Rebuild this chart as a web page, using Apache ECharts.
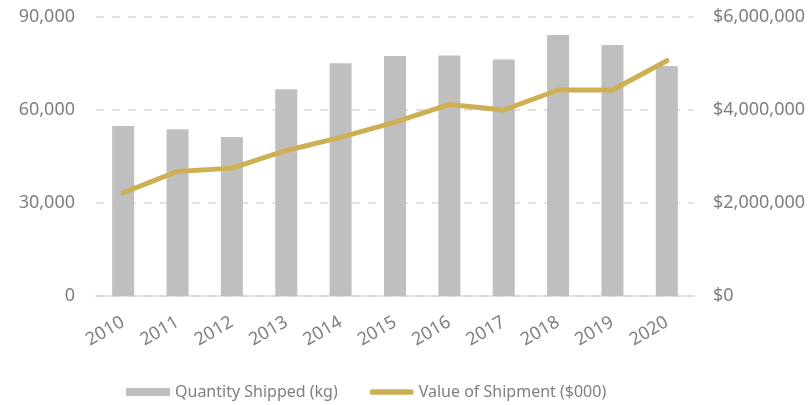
<!DOCTYPE html>
<html>
<head>
<meta charset="utf-8">
<script src="https://cdn.jsdelivr.net/npm/echarts@6/dist/echarts.min.js"></script>
<style>
  html, body { margin: 0; padding: 0; background: #fff; }
  #chart { width: 811px; height: 405px; }
</style>
</head>
<body>
<div id="chart"></div>
<script>
var years = ['2010', '2011', '2012', '2013', '2014', '2015', '2016', '2017', '2018', '2019', '2020'];
var quantityKg = [54800, 53800, 51300, 66700, 75100, 77400, 77600, 76300, 84200, 81000, 74200];
var valueDollars = [2220000, 2680000, 2750000, 3130000, 3410000, 3740000, 4120000, 4000000, 4430000, 4430000, 5060000];

var textColor = '#7f7f7f';
var font = 'Noto Sans';
var gold = '#cdb054';

function fmt(v) {
    return v.toString().replace(/\B(?=(\d{3})+(?!\d))/g, ',');
}

var chart = echarts.init(document.getElementById('chart'));
chart.setOption({
    animation: false,
    grid: { left: 96, right: 117, top: 17, bottom: 109 },
    legend: {
        left: 121,
        top: 379,
        itemGap: 32,
        itemWidth: 44,
        itemHeight: 8,
        textStyle: { color: textColor, fontFamily: font, fontSize: 16 },
        data: [
            { name: 'Quantity Shipped (kg)', icon: 'rect' },
            { name: 'Value of Shipment ($000)',
              icon: 'path://M3,0 H44 A3,3 0 0 1 44,6 H3 A3,3 0 0 1 3,0 Z',
              itemStyle: { color: gold } }
        ]
    },
    xAxis: {
        type: 'category',
        data: years,
        axisLine: { lineStyle: { color: '#d9d9d9', width: 1.5 } },
        axisTick: { show: false },
        axisLabel: { color: textColor, fontFamily: font, fontSize: 18, rotate: 30, margin: 25 }
    },
    yAxis: [
        {
            type: 'value',
            min: 0, max: 90000, interval: 30000,
            axisLabel: { color: textColor, fontFamily: font, fontSize: 18, margin: 21, formatter: fmt },
            splitLine: { lineStyle: { color: '#d9d9d9', type: [8, 8], width: 1.5 } },
            axisLine: { show: false },
            axisTick: { show: false }
        },
        {
            type: 'value',
            min: 0, max: 6000000, interval: 2000000,
            axisLabel: { color: textColor, fontFamily: font, fontSize: 18, margin: 19,
                formatter: function (v) { return '$' + fmt(v); } },
            splitLine: { show: false },
            axisLine: { show: false },
            axisTick: { show: false }
        }
    ],
    series: [
        {
            name: 'Quantity Shipped (kg)',
            type: 'bar',
            data: quantityKg,
            barWidth: 22,
            itemStyle: { color: '#bfbfbf' }
        },
        {
            name: 'Value of Shipment ($000)',
            type: 'line',
            yAxisIndex: 1,
            data: valueDollars,
            symbol: 'none',
            lineStyle: { color: gold, width: 5, cap: 'round', join: 'round' },
            itemStyle: { color: gold }
        }
    ]
});
</script>
</body>
</html>
